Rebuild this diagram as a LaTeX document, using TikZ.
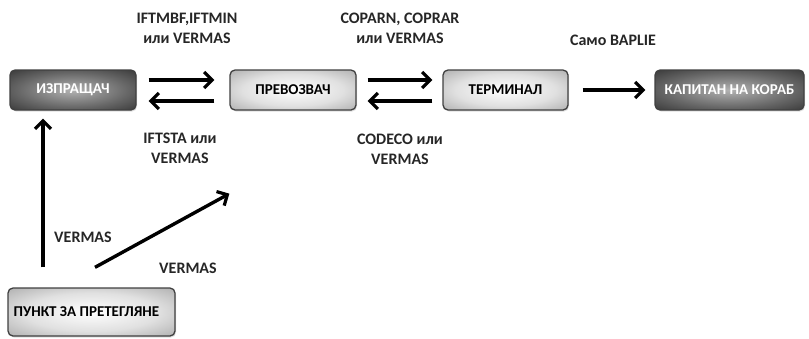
\documentclass[tikz,border=0pt]{standalone}
\usepackage{fontspec}
\setmainfont{Carlito}
\usetikzlibrary{arrows.meta,shadows}
\pgfdeclareradialshading{darkglow}{\pgfpoint{0bp}{0bp}}{color(0bp)=(black!30); color(22bp)=(black!60); color(50bp)=(black!95)}
\pgfdeclareradialshading{lightglow}{\pgfpoint{0bp}{0bp}}{color(0bp)=(white); color(20bp)=(black!12); color(50bp)=(black!48)}
\tikzset{
	party/.style={draw=black!75, line width=1.3pt, rounded corners=5pt, minimum height=40pt, inner sep=0pt,
		font=\fontsize{15}{17}\selectfont\bfseries, drop shadow={opacity=0.25, shadow xshift=1pt, shadow yshift=-1.5pt}},
	darkparty/.style={party, shading=darkglow, text=white},
	lightparty/.style={party, shading=lightglow, text=black},
	msg/.style={font=\fontsize{16}{20}\selectfont\bfseries, text=black!85, align=center},
	flow/.style={line width=3.4pt, -{Straight Barb[length=8pt,width=16pt,line width=3.2pt]}}
}
\begin{document}
\begin{tikzpicture}[x=1pt,y=-1pt]
	\useasboundingbox (0,0) rectangle (809,338);
	% parties
	\node [darkparty, minimum width=126pt] (izp) at (73,90) {ИЗПРАЩАЧ};
	\node [lightparty, minimum width=126pt] (prev) at (293,90) {ПРЕВОЗВАЧ};
	\node [lightparty, minimum width=125pt] (term) at (505.5,90) {ТЕРМИНАЛ};
	\node [darkparty, minimum width=149pt] (kap) at (729.5,90) {КАПИТАН НА КОРАБ};
	\node [lightparty, minimum width=167pt, minimum height=48pt] (punkt) at (91.5,312) {\hspace*{-10pt}ПУНКТ ЗА ПРЕТЕГЛЯНЕ};
	% messages
	\draw [flow] ([xshift=12pt,yshift=10pt]izp.east) -- ([xshift=-15pt,yshift=10pt]prev.west);
	\draw [flow] ([xshift=-15pt,yshift=-11pt]prev.west) -- ([xshift=12pt,yshift=-11pt]izp.east);
	\draw [flow] ([xshift=11pt,yshift=10pt]prev.east) -- ([xshift=-10pt,yshift=10pt]term.west);
	\draw [flow] ([xshift=-10pt,yshift=-11pt]term.west) -- ([xshift=11pt,yshift=-11pt]prev.east);
	\draw [flow] ([xshift=14pt]term.east) -- ([xshift=-9pt]kap.west);
	\draw [flow] ([xshift=-48.5pt,yshift=20pt]punkt.north) -- ([xshift=-30pt,yshift=-8pt]izp.south);
	\draw [flow] ([xshift=3.5pt,yshift=20pt]punkt.north) -- ([yshift=-83pt]prev.south west);
	% labels
	\node [msg] (l1) at (187,28) {IFTMBF,IFTMIN\\или VERMAS};
	\node [msg] (l2) at (400,28) {COPARN, COPRAR\\или VERMAS};
	\node [msg] (l3) at (180,148) {IFTSTA или\\VERMAS};
	\node [msg] (l4) at (400,149) {CODECO или\\VERMAS};
	\node [msg] (l5) at (613,40) {Само BAPLIE};
	\node [msg] (l6) at (83,237) {VERMAS};
	\node [msg] (l7) at (188,268) {VERMAS};
\end{tikzpicture}
\end{document}
